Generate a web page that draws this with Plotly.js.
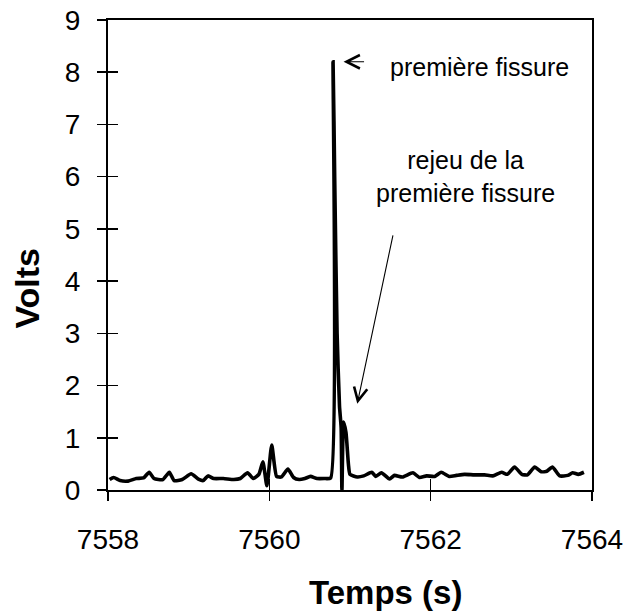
<!DOCTYPE html>
<html>
<head>
<meta charset="utf-8">
<script src="https://cdn.plot.ly/plotly-3.0.1.min.js"></script>
<style>html,body{margin:0;padding:0;background:#fff;}#chart{width:632px;height:614px;}</style>
</head>
<body>
<div id="chart"></div>
<script>
// Temps (s)
var temps = [
  7558.02, 7558.07, 7558.15, 7558.25, 7558.35, 7558.44, 7558.51, 7558.57, 7558.68, 7558.76,
  7558.82, 7558.92, 7559.03, 7559.12, 7559.18, 7559.24, 7559.31, 7559.43, 7559.56, 7559.64,
  7559.73, 7559.80, 7559.87, 7559.92, 7559.97, 7560.03, 7560.09, 7560.15, 7560.23, 7560.30,
  7560.37, 7560.44, 7560.51, 7560.59, 7560.68, 7560.76, 7560.79, 7560.81, 7560.84, 7560.87,
  7560.89, 7560.90, 7560.92, 7560.95, 7560.98, 7561.00, 7561.09, 7561.17, 7561.27, 7561.32,
  7561.39, 7561.49, 7561.55, 7561.65, 7561.78, 7561.86, 7561.95, 7562.05, 7562.13, 7562.23,
  7562.32, 7562.42, 7562.54, 7562.67, 7562.77, 7562.88, 7562.95, 7563.04, 7563.13, 7563.20,
  7563.29, 7563.37, 7563.44, 7563.51, 7563.60, 7563.70, 7563.76, 7563.83, 7563.90
];
// Volts
var volts = [
  0.20, 0.24, 0.18, 0.17, 0.22, 0.23, 0.34, 0.22, 0.20, 0.34,
  0.18, 0.20, 0.31, 0.21, 0.18, 0.27, 0.22, 0.22, 0.20, 0.22,
  0.33, 0.22, 0.30, 0.54, 0.08, 0.86, 0.26, 0.25, 0.40, 0.24,
  0.20, 0.22, 0.26, 0.22, 0.22, 0.23, 8.20, 6.00, 3.00, 1.60,
  1.20, 0.00, 1.30, 1.10, 0.50, 0.30, 0.25, 0.27, 0.34, 0.26,
  0.33, 0.21, 0.28, 0.25, 0.33, 0.24, 0.27, 0.26, 0.34, 0.26,
  0.28, 0.30, 0.29, 0.29, 0.27, 0.34, 0.30, 0.44, 0.30, 0.29,
  0.44, 0.35, 0.36, 0.44, 0.27, 0.28, 0.33, 0.30, 0.34
];
var xTicks = [7558, 7560, 7562, 7564];
var yTicks = [0, 1, 2, 3, 4, 5, 6, 7, 8, 9];
var xTitle = "Temps (s)";
var yTitle = "Volts";
var note1 = "première fissure";
var note2 = "rejeu de la<br>première fissure";

var FONT = "Liberation Sans, Arial, sans-serif";

var data = [
  {x: temps, y: volts, type: "scatter", mode: "lines",
   line: {color: "#000", width: 3.6, shape: "spline", smoothing: 0.5}, hoverinfo: "x+y", showlegend: false},
  {x: [], y: [], xaxis: "x2", yaxis: "y2", type: "scatter", mode: "lines", showlegend: false}
];

var layout = {
  width: 632, height: 614,
  margin: {l: 108, r: 40, t: 20, b: 124},
  paper_bgcolor: "#fff", plot_bgcolor: "#fff",
  font: {family: FONT, color: "#000"},
  showlegend: false,
  xaxis: {range: [7558, 7564], tickvals: xTicks, ticktext: xTicks.map(String),
          ticks: "outside", ticklen: 9, tickwidth: 1.5, tickcolor: "#000",
          showline: true, linewidth: 2, linecolor: "#000", mirror: true,
          showgrid: false, zeroline: false, ticklabelstandoff: 14,
          tickfont: {size: 28, family: FONT, color: "#000"}},
  yaxis: {range: [0, 9], tickvals: yTicks, ticktext: yTicks.map(String),
          ticks: "outside", ticklen: 9, tickwidth: 1.5, tickcolor: "#000",
          showline: true, linewidth: 2, linecolor: "#000", mirror: true,
          showgrid: false, zeroline: false, ticklabelstandoff: 11,
          tickfont: {size: 28, family: FONT, color: "#000"}},
  xaxis2: {range: [7558, 7564], tickvals: xTicks, overlaying: "x", anchor: "y",
           ticks: "inside", ticklen: 11, tickwidth: 1.5, tickcolor: "#000",
           showticklabels: false, showline: false, showgrid: false, zeroline: false},
  yaxis2: {range: [0, 9], tickvals: yTicks, overlaying: "y", anchor: "x",
           ticks: "inside", ticklen: 10, tickwidth: 1.5, tickcolor: "#000",
           showticklabels: false, showline: false, showgrid: false, zeroline: false},
  annotations: [
    {text: "<b>" + xTitle + "</b>", xref: "paper", yref: "paper", x: 0.574, y: -0.219,
     xanchor: "center", yanchor: "middle", showarrow: false, font: {size: 33, family: FONT, color: "#000"}},
    {text: "<b>" + yTitle + "</b>", xref: "paper", yref: "paper", x: -0.168, y: 0.43,
     xanchor: "center", yanchor: "middle", textangle: -90, showarrow: false, font: {size: 34, family: FONT, color: "#000"}},
    {text: "", xref: "x", yref: "y", x: 7560.92, y: 8.2, ax: 22, ay: 0,
     showarrow: true, arrowhead: 5, arrowsize: 2.4, arrowwidth: 1.1, arrowcolor: "#000", standoff: 0},
    {text: note1, xref: "paper", yref: "y", x: 0.578, y: 8.1,
     xanchor: "left", yanchor: "middle", showarrow: false, font: {size: 25, family: FONT, color: "#000"}},
    {text: "", xref: "x", yref: "y", x: 7561.09, y: 1.65, ax: 36, ay: -170,
     showarrow: true, arrowhead: 5, arrowsize: 2.4, arrowwidth: 1.1, arrowcolor: "#000"},
    {text: note2, xref: "paper", yref: "paper", x: 0.738, y: 0.668,
     xanchor: "center", yanchor: "middle", showarrow: false, font: {size: 25, family: FONT, color: "#000"}}
  ]
};

Plotly.newPlot("chart", data, layout, {displayModeBar: false, staticPlot: true});
</script>
</body>
</html>
